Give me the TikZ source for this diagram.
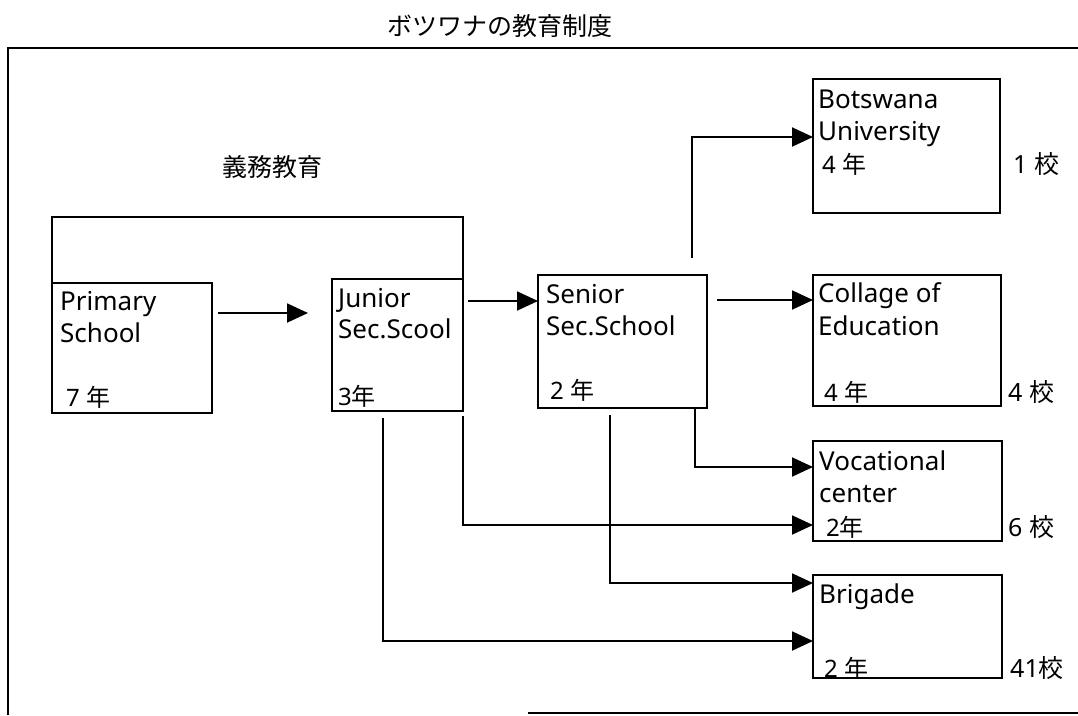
\documentclass[tikz,border=0pt]{standalone}
\usepackage{fontspec}
\setmainfont{Noto Sans}
\newfontfamily\cjk{Noto Sans CJK JP}
\usetikzlibrary{arrows.meta}
\begin{document}
\begin{tikzpicture}[x=1pt,y=-1pt,
  box/.style={draw, line width=1.9pt, rectangle, anchor=north west, inner sep=0pt, outer sep=0pt},
  lat/.style={anchor=base west, inner sep=0pt, font=\fontsize{26}{30}\selectfont},
  yr/.style={anchor=base west, inner sep=0pt, font=\fontsize{24}{28}\selectfont},
  cnt/.style={anchor=base west, inner sep=0pt, font=\fontsize{25}{28}\selectfont},
  head/.style={inner sep=0pt, font=\fontsize{25}{28}\selectfont\cjk},
  arr/.style={line width=1.9pt, -{Triangle[length=21pt,width=19pt]}},
  ln/.style={line width=1.9pt}]
\fill[white] (0,0) rectangle (1078,715);
\useasboundingbox (0,0) rectangle (1078,715);

% frame
\draw[ln] (8,715) -- (8,48) -- (1078,48);
\draw[line width=1.4pt] (528,713) -- (1078,713);

% titles
\node[head] (title) at (500,26) {ボツワナの教育制度};
\node[head] (gimu) at (272,167) {義務教育};

% boxes
\node[box, minimum width=160, minimum height=130] (primary) at (52,283) {};
\node[box, minimum width=131, minimum height=132] (junior) at (332,279) {};
\node[box, minimum width=169, minimum height=133] (senior) at (538,275) {};
\node[box, minimum width=187, minimum height=134] (botswana) at (813,79) {};
\node[box, minimum width=188, minimum height=131] (collage) at (813,275) {};
\node[box, minimum width=189, minimum height=100] (vocational) at (813,441) {};
\node[box, minimum width=189, minimum height=103] (brigade) at (813,575) {};

% bracket of compulsory education
\coordinate (ctop) at (0,217);
\draw[ln] (primary.north west) -- (primary.north west |- ctop) -- (junior.north east |- ctop) -- (junior.north east);

% texts
\node[lat] (p1) at (60,310) {Primary};
\node[lat] (p2) at (60,342) {School};
\node[yr]  (p3) at (66,406) {7 {\cjk 年}};

\node[lat] (j1) at (338,307) {Junior};
\node[lat] (j2) at (338,338) {Sec.Scool};
\node[yr]  (j3) at (338,405) {3{\cjk 年}};

\node[lat] (s1) at (546,303) {Senior};
\node[lat] (s2) at (546,335) {Sec.School};
\node[yr]  (s3) at (550,399) {2 {\cjk 年}};

\node[lat] (b1) at (818,108) {Botswana};
\node[lat] (b2) at (818,140) {University};
\node[yr]  (b3) at (822,173) {4 {\cjk 年}};
\node[cnt] (bc) at (1013,173) {1 {\cjk 校}};

\node[lat] (c1) at (818,302) {Collage of};
\node[lat] (c2) at (818,335) {Education};
\node[yr]  (c3) at (824,401) {4 {\cjk 年}};
\node[cnt] (cc) at (1008,401) {4 {\cjk 校}};

\node[lat] (v1) at (819,470) {Vocational};
\node[lat] (v2) at (819,502) {center};
\node[yr]  (v3) at (826,536) {2{\cjk 年}};
\node[cnt] (vc) at (1008,536) {6 {\cjk 校}};

\node[lat] (g1) at (819,603) {Brigade};
\node[yr]  (g3) at (824,677) {2 {\cjk 年}};
\node[cnt] (gc) at (1010,677) {41{\cjk 校}};

% connectors
\draw[arr, shorten <=6pt, shorten >=24pt] (primary.east |- 0,313) -- (junior.west |- 0,313);
\draw[arr, shorten <=5pt] (junior.east |- 0,301) -- (senior.west |- 0,301);
\draw[arr, shorten <=10pt] (senior.east |- 0,300) -- (collage.west |- 0,300);

\coordinate (sb) at (692,258);
\draw[arr] (sb) |- (botswana.west |- 0,137);

\draw[arr] (senior.south -| 695,0) |- (vocational.west |- 0,467);

\coordinate (jv) at (463,416);
\draw[arr] (jv) |- (vocational.west |- 0,525);

\coordinate (sg) at (610,415);
\draw[arr] (sg) |- (brigade.west |- 0,583);

\coordinate (jg) at (383,418);
\draw[arr] (jg) |- (brigade.west |- 0,641);
\end{tikzpicture}
\end{document}
